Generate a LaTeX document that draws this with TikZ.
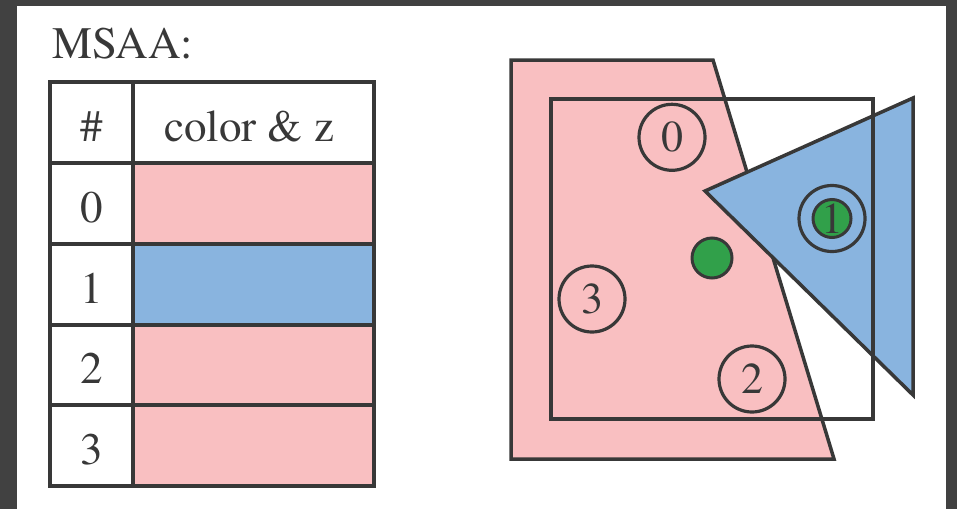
\documentclass[tikz,border=0pt]{standalone}
\usepackage{fontspec}
\setmainfont{texgyretermes-regular.otf}
\definecolor{frame}{HTML}{414141}
\definecolor{ink}{HTML}{383838}
\definecolor{pinkf}{HTML}{F9BFC1}
\definecolor{bluef}{HTML}{89B4DF}
\definecolor{greenf}{HTML}{31A04A}
\tikzset{
  ln/.style={draw=ink, line width=3.5pt, line join=miter},
  txt/.style={inner sep=0pt, text=ink, font=\fontsize{45}{45}\selectfont},
  sample/.style={circle, draw=ink, line width=3.2pt, minimum size=66pt, inner sep=0pt, text=ink, font=\fontsize{44}{44}\selectfont},
}
\begin{document}
\begin{tikzpicture}[x=1pt,y=-1pt]
\useasboundingbox (0,0) rectangle (957,509);
\fill[frame] (0,0) rectangle (957,509);
\fill[white] (17,6) rectangle (946,509);
% title
\node[txt, anchor=base west] (title) at (52,58) {MSAA:};
% table fills
\fill[pinkf] (133,163) rectangle (374,244);
\fill[bluef] (133,244) rectangle (374,325);
\fill[pinkf] (133,325) rectangle (374,405);
\fill[pinkf] (133,405) rectangle (374,486);
% table grid
\draw[ln] (50,82) rectangle (374,486);
\draw[ln] (133,82) -- (133,486);
\foreach \yy in {163,244,325,405} \draw[ln] (50,\yy) -- (374,\yy);
% table text
\node[txt, anchor=base] (hnum) at (91.5,141) {\#};
\node[txt, anchor=base] (hcol) at (249,141) {color \& z};
\node[txt, anchor=base] (r0) at (91.5,222.7) {0};
\node[txt, anchor=base] (r1) at (91.5,303) {1};
\node[txt, anchor=base] (r2) at (91.5,383.5) {2};
\node[txt, anchor=base] (r3) at (91.5,464) {3};
% pink quad
\filldraw[ln, fill=pinkf] (511,60) -- (713,60) -- (834,459) -- (511,459) -- cycle;
% blue triangle
\filldraw[ln, fill=bluef] (705,191) -- (913,98) -- (913,395) -- cycle;
% pixel square
\draw[ln] (551,99) rectangle (873,419);
% samples
\node[sample] (s0) at (672,137.3) {0};
\node[sample] (s3) at (592,299) {3};
\node[sample] (s2) at (752,379) {2};
\node[sample] (s1) at (832,218.5) {};
\node[circle, draw=ink, line width=3pt, fill=greenf, minimum size=38pt, inner sep=0pt, text=ink, font=\fontsize{44}{44}\selectfont] (s1in) at (832,218.5) {1};
% centroid dot
\node[circle, draw=ink, line width=3pt, fill=greenf, minimum size=40pt, inner sep=0pt] (dot) at (712,258) {};
\end{tikzpicture}
\end{document}
